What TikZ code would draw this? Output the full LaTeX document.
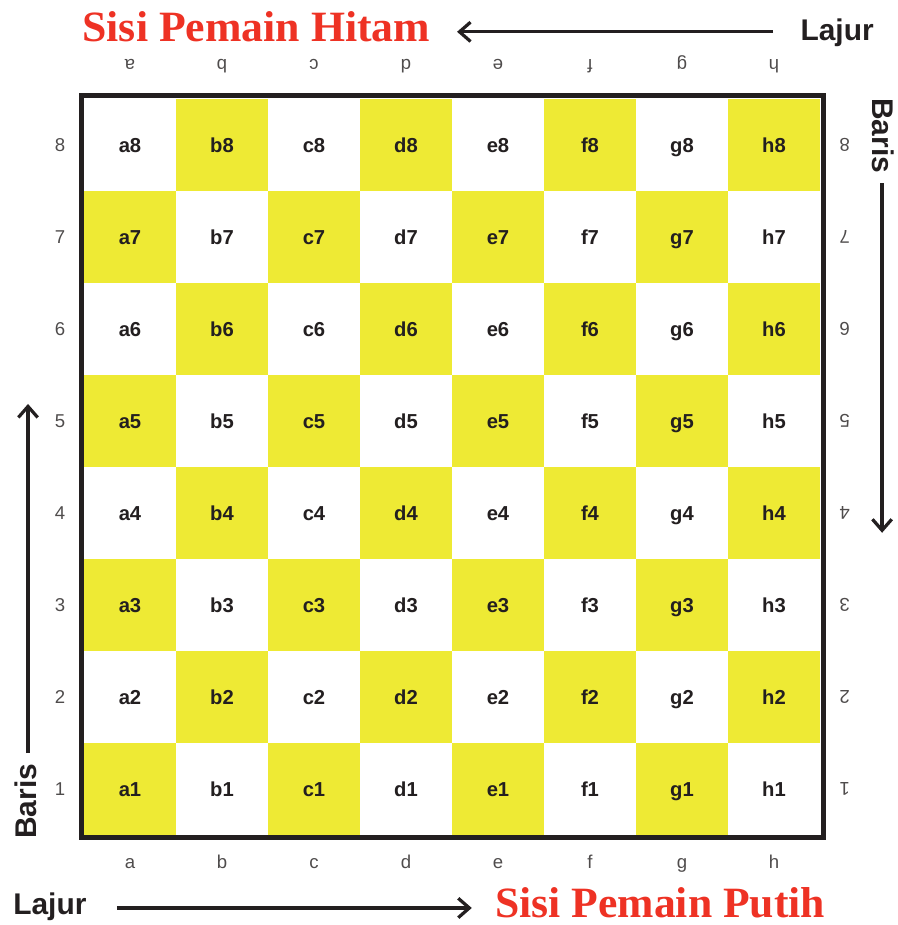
\documentclass[tikz,border=0pt]{standalone}
\usepackage{fontspec}
\setmainfont{Liberation Sans}
\newfontfamily\titlefont{Liberation Serif}
\usepackage{graphicx}
\usetikzlibrary{arrows.meta,positioning}
\definecolor{boardyellow}{RGB}{238,234,52}
\definecolor{titlered}{RGB}{238,50,36}
\definecolor{ink}{RGB}{35,31,32}

\begin{document}
\begin{tikzpicture}[
 sq/.style={minimum size=2cm,inner sep=0pt,text height=8.9pt,text depth=0pt,font=\fontsize{12.5}{14}\selectfont\bfseries,text=ink},
 dk/.style={sq,fill=boardyellow},
 lt/.style={sq,fill=white},
 coord/.style={inner sep=0pt,text height=8.4pt,text depth=0pt,font=\fontsize{11.5}{13}\selectfont,text=ink!80},
 flip/.style={coord,rotate=180},
 side/.style={font=\fontsize{18.5}{20}\selectfont\bfseries,text=ink,inner sep=0pt},
 title/.style={text=titlered,inner sep=0pt},
 arr/.style={-{Straight Barb[length=2.4mm,width=4.2mm]},line width=2pt,draw=ink}]
 \useasboundingbox (-1.826,-1.957) rectangle (17.696,18.152);
 % squares and coordinates
 \foreach \f [count=\i] in {a,b,c,d,e,f,g,h} {
  \foreach \r in {1,...,8} {
   \pgfmathtruncatemacro\shade{mod(\i+\r,2)}
   \ifnum\shade=0 \node[dk] (\f\r) at (2*\i-1,2*\r-1) {\f\r};
   \else \node[lt] (\f\r) at (2*\i-1,2*\r-1) {\f\r}; \fi
  }
  \node[coord] (bot-\f) at (2*\i-1,-0.587) {\f};
  \node[flip] (top-\f) at (2*\i-1,16.70) {\f};
 }
 \foreach \r in {1,...,8} {
  \node[coord] (left-\r) at (-0.52,2*\r-1) {\r};
  \node[flip] (right-\r) at (16.54,2*\r-1) {\r};
 }
 \draw[ink,line width=0.109cm] (-0.054,-0.054) rectangle (16.07,16.07);
 % titles
 \node[title,anchor=base west] (hitam) at (-0.04,17.24) {\resizebox{7.56cm}{0.652cm}{\titlefont\bfseries Sisi Pemain Hitam}};
 \node[title,anchor=base west] (putih) at (8.935,-1.79) {\resizebox{7.17cm}{0.652cm}{\titlefont\bfseries Sisi Pemain Putih}};
 % side labels
 \node[side,anchor=base west] (lajurT) at (15.57,17.28) {Lajur};
 \node[side,anchor=base west] (lajurB) at (-1.543,-1.739) {Lajur};
 \node[side,anchor=base west,rotate=90] (barisL) at (-1.043,-0.087) {Baris};
 \node[side,anchor=base west,rotate=-90] (barisR) at (17.15,16.02) {Baris};
 \coordinate (lajurT-s) at (14.98,17.46); \coordinate (lajurT-e) at (8.11,17.46);
 \coordinate (lajurB-s) at (0.717,-1.587); \coordinate (lajurB-e) at (8.43,-1.587);
 \coordinate (barisL-s) at (-1.217,1.78); \coordinate (barisL-e) at (-1.217,9.37);
 \coordinate (barisR-s) at (17.35,14.17); \coordinate (barisR-e) at (17.35,6.57);
 \draw[arr] (lajurT-s) -- (lajurT-e);
 \draw[arr] (lajurB-s) -- (lajurB-e);
 \draw[arr] (barisL-s) -- (barisL-e);
 \draw[arr] (barisR-s) -- (barisR-e);
\end{tikzpicture}
\end{document}
